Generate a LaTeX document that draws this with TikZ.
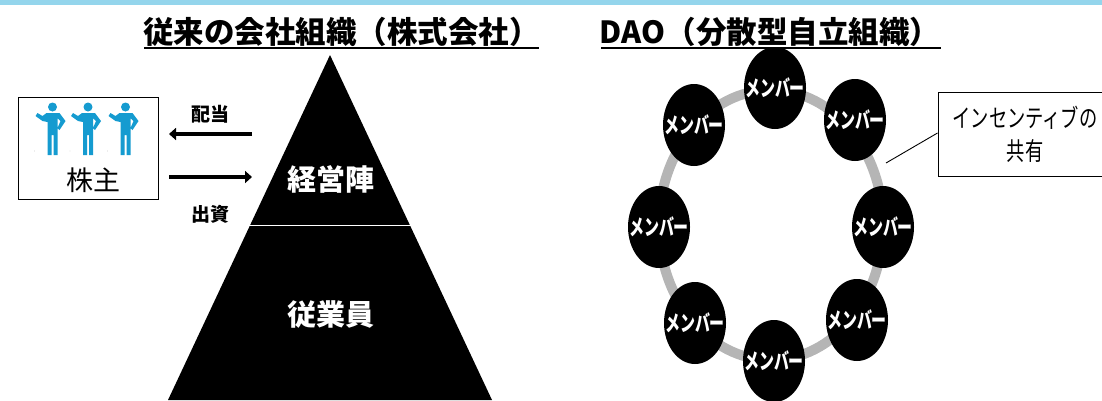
\documentclass[tikz,border=0pt]{standalone}
\usepackage{fontspec}
\setmainfont{Noto Sans CJK JP}
\definecolor{topbar}{HTML}{94D5EC}
\definecolor{person}{HTML}{159BD0}
\definecolor{ring}{HTML}{B5B5B5}
\newcommand{\memberlabel}{\makebox[0pt]{\scalebox{0.68}[1]{メンバー}}}
\tikzset{
    member/.style={ellipse, fill=black, text=white, minimum width=62pt, minimum height=82pt, inner sep=0pt, font=\fontsize{22}{22}\selectfont\bfseries},
    heading/.style={anchor=base, font=\fontsize{30.5}{30.5}\selectfont\bfseries},
    small/.style={font=\fontsize{19}{19}\selectfont\bfseries},
    level/.style={text=white, font=\fontsize{29}{29}\selectfont\bfseries},
    flow/.style={-{Triangle[length=7pt,width=12pt]}, line width=4pt},
}
\usetikzlibrary{shapes.geometric,arrows.meta}
\begin{document}
\begin{tikzpicture}[x=1pt, y=-1pt]
    \useasboundingbox (0,0) rectangle (1102,400);
    \fill [topbar] (0,0) rectangle (1102,5);
    % headings
    \node [heading] (oldtitle) at (341.5,43) {従来の会社組織（株式会社）};
    \node [heading] (daotitle) at (770,43) {DAO（分散型自立組織）};
    \draw [line width=2.4pt] (144,48)--(539,48);
    \draw [line width=2.4pt] (601,48)--(941,48);
    % pyramid
    \fill (330,55)--(492,400)--(168,400)--cycle;
    \draw [white, line width=1.2pt] (249,225.5)--(412,225.5);
    \node [level] (board) at (331,179) {経営陣};
    \node [level] (staff) at (331,315) {従業員};
    % shareholders
    \node [draw, line width=1pt, minimum width=140pt, minimum height=102pt, inner sep=0pt] (holders) at (88.5,148.5) {};
    \foreach \px in {52.5,88,125.5}{
        \fill [person] (\px,107) circle (4.5pt);
        \fill [person] (\px-6,113)--(\px+7,113)--(\px+13,121)--(\px+7,130)--(\px+5,128)--(\px+8,121)--(\px+5,118)--(\px+5,155)--(\px+1,155)--(\px+1,135)--(\px-1,135)--(\px-1,155)--(\px-5,155)--(\px-5,122)--(\px-10,121)--(\px-17,116)--(\px-15,113)--(\px-10,116)--cycle;
        \fill [gray!60] (\px-18,151) circle (0.4pt);
    }
    \node [font=\fontsize{27}{27}\selectfont] (holderlabel) at (93,180) {株主};
    % flows
    \coordinate (divfrom) at (252,134);
    \coordinate (divto) at (169,134);
    \coordinate (invfrom) at (169,177);
    \coordinate (invto) at (252,177);
    \draw [flow] (divfrom)-- node [above, small, pos=0.5, yshift=5pt]{配当} (divto);
    \draw [flow] (invfrom)-- node [below, small, pos=0.5, yshift=-23pt]{出資} (invto);
    % ring of members
    \draw [ring, line width=10pt] (771,225) ellipse (112pt and 135pt);
    \node [member] (m1) at (775,88) {\memberlabel};
    \node [member] (m2) at (855,120) {\memberlabel};
    \node [member] (m3) at (883,227) {\memberlabel};
    \node [member] (m4) at (857,320) {\memberlabel};
    \node [member] (m5) at (774,361) {\memberlabel};
    \node [member] (m6) at (695,323) {\memberlabel};
    \node [member] (m7) at (659,227) {\memberlabel};
    \node [member] (m8) at (694,125) {\memberlabel};
    % callout
    \node [draw, line width=1pt, minimum width=165pt, minimum height=84pt, inner sep=0pt, align=center, font=\fontsize{25}{33}\selectfont] (share) at (1020.5,134) {\hspace*{9pt}\scalebox{0.73}[1]{インセンティブの}\\\hspace*{9pt}\scalebox{0.73}[1]{共有}};
    \coordinate (ringpoint) at (886,163);
    \draw [line width=0.9pt] (share.west|-0,133)--(ringpoint);
\end{tikzpicture}
\end{document}
